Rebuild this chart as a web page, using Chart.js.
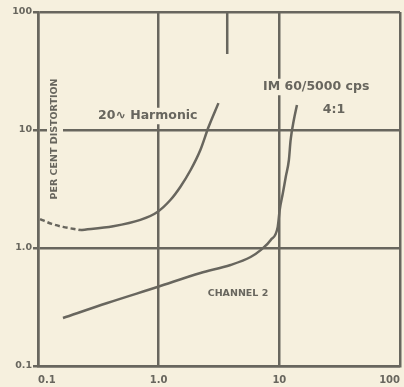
<!DOCTYPE html>
<html>
<head>
<meta charset="utf-8">
<script src="https://cdn.jsdelivr.net/npm/chart.js@4.4.1/dist/chart.umd.min.js"></script>
<style>
  html, body { margin: 0; padding: 0; background: #f6f0de; }
  #wrap { width: 404px; height: 387px; }
</style>
</head>
<body>
<div id="wrap"><canvas id="chart"></canvas></div>
<script>
// values (log-log, per cent distortion vs output)
const decadeTicks = [0.1, 1, 10, 100];
const xTickLabels = ["0.1", "1.0", "10", "100"];
const yTickLabels = ["0.1", "1.0", "10", "100"];

const harmonicDashX = [0.104, 0.13, 0.161, 0.223];
const harmonicDashY = [1.76, 1.6, 1.51, 1.42];
const harmonicX = [0.223, 0.42, 0.705, 0.976, 1.25, 1.51, 1.84, 2.22, 2.59, 3.13];
const harmonicY = [1.42, 1.53, 1.73, 2.02, 2.55, 3.29, 4.58, 6.8, 10.6, 16.9];

const imX = [0.161, 0.375, 0.975, 2.22, 3.94, 5.78, 7.0, 8.49, 9.7, 10.07, 10.7, 11.3, 12.0, 12.4, 13.2, 14.0];
const imY = [0.255, 0.342, 0.467, 0.614, 0.718, 0.839, 0.96, 1.17, 1.51, 2.10, 2.92, 4.0, 5.57, 8.2, 12.2, 16.3];

const markX = [3.7, 3.7];
const markY = [100, 44];

const ink = "#68665e";
const paper = "#f6f0de";

const pts = (xs, ys) => xs.map((x, i) => ({ x: x, y: ys[i] }));

const labels = [
  { text: "20\u223F Harmonic", x: 98, y: 116, size: 12.5, align: "left" },
  { text: "IM 60/5000 cps", x: 263, y: 87, size: 12.5, align: "left" },
  { text: "4:1", x: 334, y: 110, size: 12.5, align: "center" },
  { text: "CHANNEL 2", x: 238, y: 294, size: 9.5, align: "center" },
];

const textPlugin = {
  id: "texts",
  beforeDraw(chart) {
    const c = chart.ctx;
    c.save();
    c.fillStyle = paper;
    c.fillRect(0, 0, chart.width, chart.height);
    c.restore();
  },
  afterDatasetsDraw(chart) {
    const c = chart.ctx;
    c.save();
    c.textBaseline = "middle";
    labels.forEach(l => {
      c.font = "bold " + l.size + "px 'DejaVu Sans'";
      c.textAlign = l.align;
      const w = c.measureText(l.text).width;
      let x0 = l.x;
      if (l.align === "center") x0 = l.x - w / 2;
      c.fillStyle = paper;
      c.fillRect(x0 - 2, l.y - l.size / 2 - 2, w + 4, l.size + 4);
      c.fillStyle = ink;
      c.fillText(l.text, l.x, l.y);
    });
    // vertical axis title
    c.translate(55, 139);
    c.rotate(-Math.PI / 2);
    c.font = "bold 9.5px 'DejaVu Sans'";
    c.textAlign = "center";
    const t = "PER CENT DISTORTION";
    const w = c.measureText(t).width;
    c.fillStyle = paper;
    c.fillRect(-w / 2 - 2, -8, w + 4, 16);
    c.fillStyle = ink;
    c.fillText(t, 0, 0);
    c.restore();
  }
};

const ctx = document.getElementById("chart").getContext("2d");

new Chart(ctx, {
  type: "line",
  data: {
    datasets: [
      {
        data: pts(harmonicDashX, harmonicDashY),
        borderColor: ink,
        borderWidth: 2.5,
        borderDash: [5, 3],
        pointRadius: 0,
        cubicInterpolationMode: "monotone",
      },
      {
        data: pts(harmonicX, harmonicY),
        borderColor: ink,
        borderWidth: 2.5,
        pointRadius: 0,
        cubicInterpolationMode: "monotone",
      },
      {
        data: pts(imX, imY),
        borderColor: ink,
        borderWidth: 2.5,
        pointRadius: 0,
        cubicInterpolationMode: "monotone",
      },
      {
        data: pts(markX, markY),
        borderColor: ink,
        borderWidth: 2.5,
        pointRadius: 0,
      },
    ],
  },
  options: {
    responsive: true,
    maintainAspectRatio: false,
    animation: false,
    layout: { padding: { left: 0, right: 4, top: 12, bottom: 0 } },
    plugins: {
      legend: { display: false },
      tooltip: { enabled: false },
    },
    scales: {
      x: {
        type: "logarithmic",
        min: 0.1,
        max: 100,
        afterBuildTicks: s => { s.ticks = decadeTicks.map(v => ({ value: v })); },
        afterFit: s => { s.height = 21; s.paddingLeft = 0; s.paddingRight = 0; },
        grid: { color: ink, lineWidth: 2.5, drawTicks: false },
        border: { color: ink, width: 2.5 },
        ticks: {
          color: ink,
          padding: 8,
          align: "inner",
          maxRotation: 0,
          autoSkip: false,
          font: { family: "DejaVu Sans", size: 10, weight: "bold" },
          callback: (v, i) => xTickLabels[i],
        },
      },
      y: {
        type: "logarithmic",
        min: 0.1,
        max: 100,
        afterBuildTicks: s => { s.ticks = decadeTicks.map(v => ({ value: v })); },
        afterFit: s => { s.width = 38; },
        grid: { color: ink, lineWidth: 2.5, tickLength: 5 },
        border: { color: ink, width: 2.5 },
        ticks: {
          color: ink,
          padding: 1,
          autoSkip: false,
          font: { family: "DejaVu Sans", size: 9.5, weight: "bold" },
          callback: (v, i) => yTickLabels[i],
        },
      },
    },
  },
  plugins: [textPlugin],
});
</script>
</body>
</html>
